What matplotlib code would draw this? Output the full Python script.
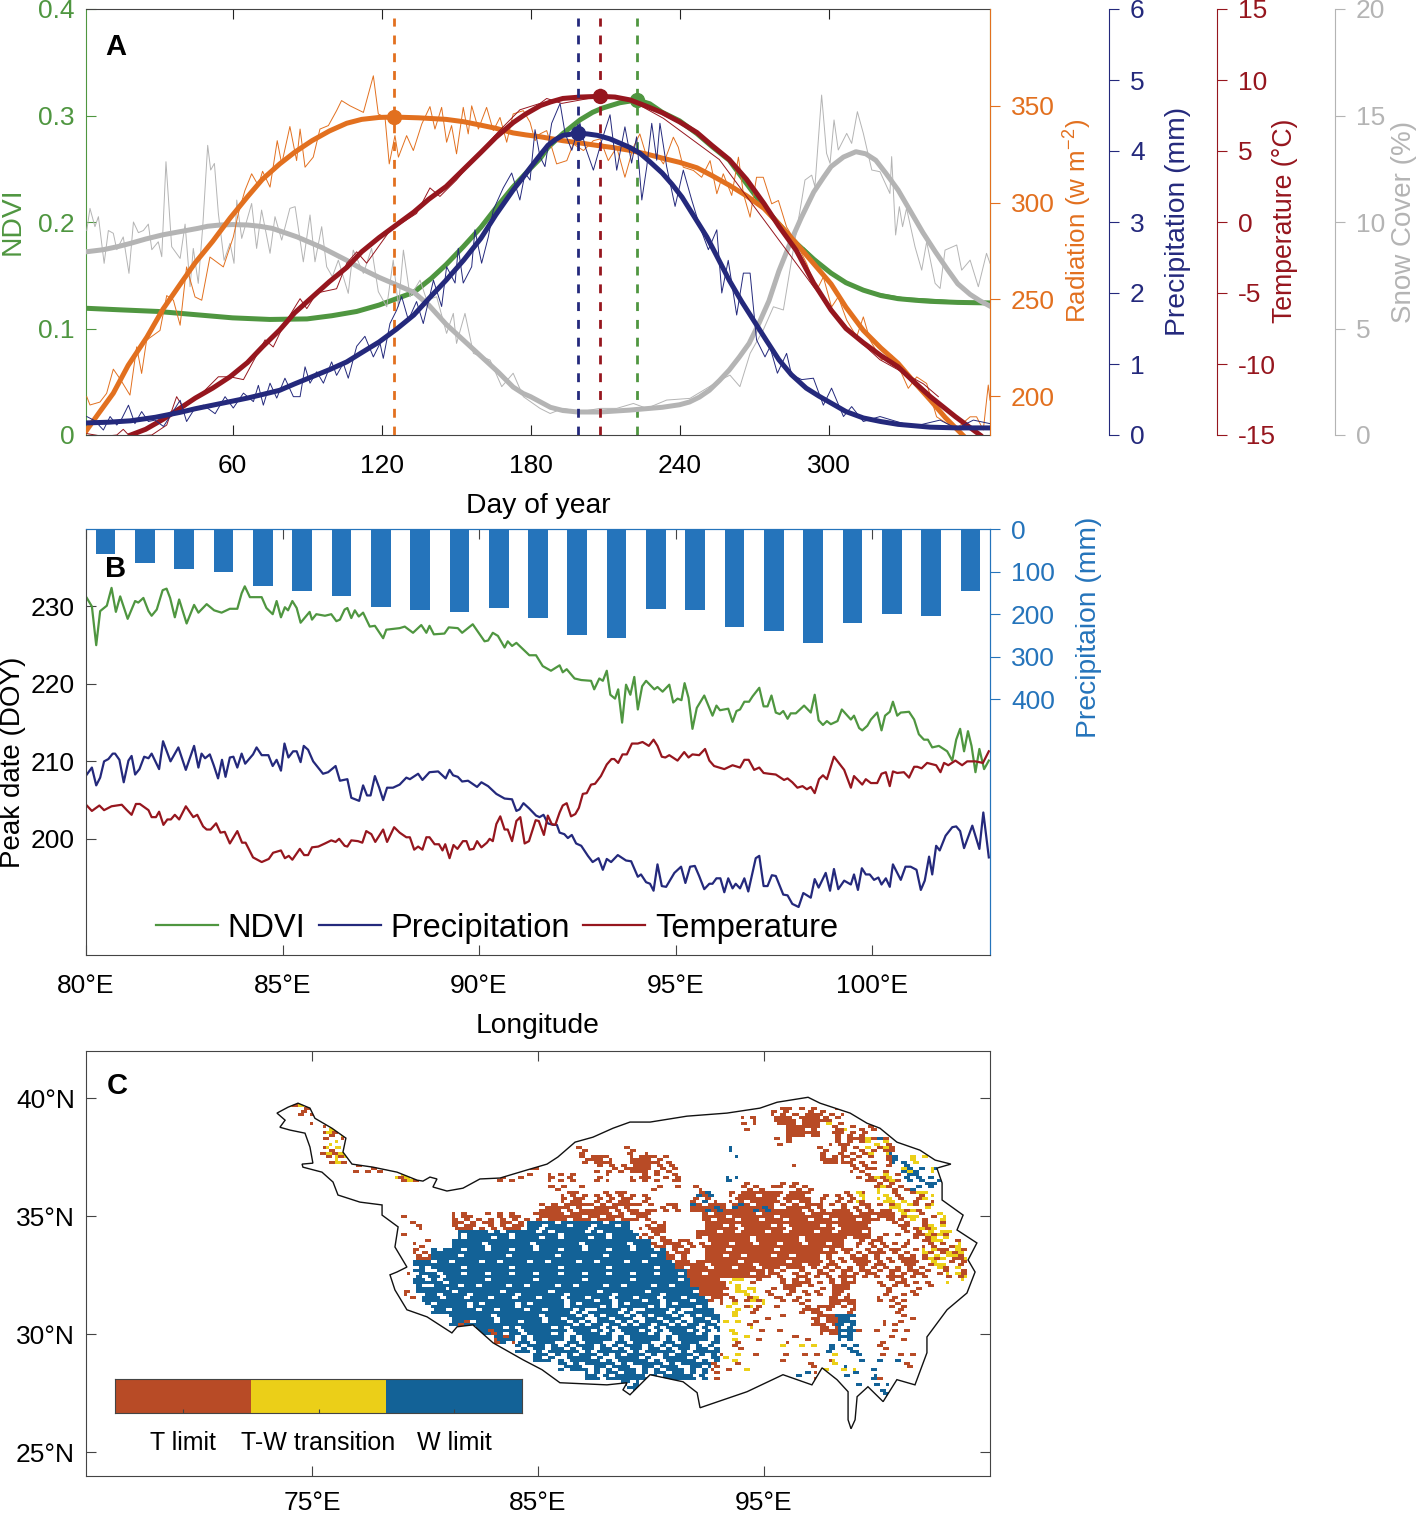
import matplotlib
matplotlib.use('Agg')
import matplotlib.pyplot as plt
import numpy as np
from matplotlib.colors import ListedColormap
from matplotlib.patches import Polygon

plt.rcParams['font.family'] = ['Liberation Sans', 'DejaVu Sans']
plt.rcParams['axes.unicode_minus'] = False
plt.rcParams['mathtext.default'] = 'regular'

W, H = 1418, 1514

# Panel A, smoothed curves
ndvi_day = [1, 15, 30, 45, 60, 75, 90, 100, 110, 119, 126, 133, 140, 146, 153, 160, 166, 173, 179, 184, 187, 193, 200, 205, 209, 216, 223, 228, 233, 240, 247, 253, 260, 267, 274, 280, 287, 294, 301, 307, 314, 321, 328, 335, 341, 352, 365]
ndvi_val = [.119, .1175, .116, .113, .110, .1085, .109, .112, .116, .122, .128, .134, .147, .16, .177, .195, .213, .233, .248, .26, .27, .283, .296, .303, .307, .312, .3146, .311, .303, .295, .283, .271, .258, .236, .214, .198, .18, .165, .152, .143, .136, .131, .128, .1265, .1255, .1245, .124]
ndvi_thin_day = [290, 300, 310, 320, 330, 338, 345, 355, 365]
ndvi_thin_val = [.176, .154, .140, .133, .129, .128, .127, .125, .124]

rad_day = [1, 6, 12, 18, 25.5, 32, 39, 45, 52, 59, 66, 72, 79, 85, 92, 99, 106, 112, 119, 125, 135, 146, 153, 160, 166, 173, 178, 184, 193, 200, 207, 214, 220, 227, 233, 240, 247, 253, 260, 267, 274, 280, 287, 294, 301, 307, 314, 321, 328, 334, 341, 347, 354]
rad_val = [182, 191, 201.6, 216, 230.5, 245, 258, 269, 280, 292, 303, 312, 320, 326, 332, 337, 341, 343, 344, 344.2, 343.8, 343, 341.8, 340, 338.4, 336, 335, 334, 332, 330.8, 329.5, 328.3, 327, 325, 323, 320.8, 318, 314, 309, 303.5, 297, 289, 279, 268.5, 258, 246, 234, 225, 217, 208, 198, 189, 180]
rad_thin_day = [1.3, 2.6, 6.6, 9.3, 12, 14.7, 18.7, 21.4, 23.4, 25.4, 30.8, 33.5, 36.2, 38.9, 41.5, 44.9, 47.6, 50.9, 56.3, 60.3, 62.3, 65, 67.7, 70.4, 72.1, 75.1, 78, 79.8, 83.1, 85.8, 87.2, 89.2, 92.5, 95.2, 98.6, 101.9, 103.9, 107.3, 112.7, 116.7, 118.7, 121.4, 123.1, 125.4, 126.8, 130.1, 132.8, 136.2, 139.5, 141.5, 144.2, 146.2, 148.2, 150.2, 152.9, 154.9, 156.3, 159, 162.3, 165, 167.7, 170.4, 173, 177.1, 179.8, 181.8, 183.8, 186.5, 190.5, 194.6, 197.2, 201.3, 205.3, 208, 211.3, 214.7, 218, 221.4, 224, 226.8, 230.8, 233.5, 237.5, 239.5, 241.5, 245.6, 248.9, 252.3, 255, 257.6, 261, 263.7, 265.7, 268.4, 271, 273.7, 277.1, 279.8, 283.1, 287.2, 291.2, 295.2, 297.9, 301.2, 303.9, 307.3, 311.3, 314, 316.7, 321.4, 325.4, 328.8, 332.1, 335.5, 339.5, 343.5, 347.6, 351.6, 357, 359.6, 362.3, 364.3, 365]
rad_thin_val = [199.8, 195.5, 197, 201.5, 214, 209, 200.6, 225.5, 211.8, 229, 234, 252, 249.6, 236.7, 266.8, 251.3, 249.6, 271.9, 266.8, 282.2, 294.2, 306.3, 314.9, 308.8, 316.2, 308, 332, 320, 339.3, 321.7, 338, 318.3, 323.5, 338, 339.8, 347.5, 352.7, 350, 346.6, 365.5, 345.8, 344, 320, 334.6, 323.5, 334.6, 326.9, 340.6, 349.6, 338, 349.2, 331.2, 339.8, 325.2, 349.2, 335.5, 350, 338, 349.2, 337.2, 344, 331.2, 345.8, 347.5, 341.5, 332, 335.5, 337.2, 320, 321.7, 330.3, 326.9, 332, 332.9, 321.7, 328.6, 313.1, 328.6, 335.5, 323.5, 325.2, 320, 333.8, 328.6, 318.3, 316.6, 313.1, 321.7, 304.6, 314.9, 303.7, 323.5, 304.6, 292.5, 313.1, 313.1, 299.4, 301.1, 287.4, 278.8, 268.5, 254.7, 261.6, 246.1, 251.3, 239.3, 230.7, 241, 229, 218.7, 221.2, 213.5, 204.1, 210, 206.6, 189.4, 186, 183.4, 189.4, 189.4, 182.6, 205.8, 198]

pre_day = [1, 10, 19, 29, 39, 45, 52, 59, 66, 72, 79, 85, 92, 99, 106, 112, 119, 126, 133, 139, 146, 153, 160, 166, 173, 177, 180, 184, 187, 190, 193, 199, 203, 207, 212, 216, 220, 224, 228, 233, 237, 241, 246, 251, 255, 260, 265, 271, 275, 280, 285, 291, 296, 301, 307, 314, 321, 328, 341, 352, 365]
pre_val = [.17, .18, .2, .25, .32, .37, .42, .47, .52, .57, .63, .72, .82, .92, 1.03, 1.16, 1.31, 1.49, 1.69, 1.92, 2.18, 2.46, 2.77, 3.1, 3.45, 3.63, 3.77, 3.95, 4.08, 4.16, 4.22, 4.25, 4.24, 4.22, 4.17, 4.11, 4.05, 3.97, 3.85, 3.69, 3.53, 3.35, 3.07, 2.79, 2.52, 2.18, 1.88, 1.55, 1.33, 1.06, .85, .66, .55, .45, .33, .24, .19, .15, .11, .10, .10]
pre_thin_day = [1.3, 4.6, 8, 10.7, 13.4, 15.4, 18.1, 20.7, 23.4, 26.1, 28.8, 32.2, 35.5, 38.9, 41.5, 44.9, 48.3, 53, 57, 60.3, 64.4, 68.4, 70.4, 72.4, 75.1, 77.8, 81.1, 84.5, 87.2, 89.2, 91.2, 93.9, 96.6, 99.9, 101.9, 104.6, 106.6, 110, 113.3, 116.7, 119.4, 120.7, 123.4, 126.1, 128.1, 130.8, 134.1, 136.8, 140.9, 144.2, 146.2, 149.6, 150.9, 152.9, 156.3, 157.6, 160.3, 163, 165, 169, 172.4, 175.7, 177.8, 179.8, 181.8, 183.8, 185.8, 188.5, 191.9, 193.9, 196.6, 199.9, 202, 205.3, 208.7, 212, 214.7, 218, 220.7, 222.7, 224.8, 226.8, 228.8, 230.8, 232.1, 234.8, 238.2, 241.5, 244.9, 248.2, 251.6, 255, 257, 259.6, 263, 265.7, 268.4, 271, 274.4, 276.4, 279.4, 283.1, 285.1, 289.2, 293.9, 297.9, 301.2, 306, 309.3, 314, 320.7, 327.4, 334.1, 344.9, 351.6, 358.3, 365]
pre_thin_val = [.26, .20, .07, .26, .14, .23, .42, .16, .33, .19, .21, .12, .30, .49, .19, .38, .42, .30, .54, .38, .59, .47, .70, .42, .73, .52, .80, .54, .54, .96, .73, .89, .73, 1.03, .84, 1.01, .80, 1.25, 1.39, 1.10, 1.29, 1.08, 1.57, 1.76, 1.95, 1.62, 1.88, 1.57, 2.18, 1.81, 2.37, 2.14, 2.63, 2.14, 2.37, 2.89, 2.42, 2.79, 3.17, 3.48, 3.69, 3.31, 3.69, 3.59, 4.30, 3.92, 3.78, 4.39, 4.67, 4.25, 4.01, 4.39, 4.06, 3.73, 4.15, 4.51, 3.73, 4.34, 3.83, 4.2, 3.31, 3.78, 4.39, 3.87, 4.39, 3.78, 3.22, 3.73, 3.31, 2.93, 2.61, 2.89, 2.0, 2.46, 1.69, 2.28, 2.28, 1.34, 1.1, 1.24, .87, 1.15, .85, .78, .80, .42, .66, .26, .40, .19, .26, .19, .12, .21, .09, .21, .16]

tem_day = [19, 25, 32, 39, 45, 52, 59, 66, 72, 79, 85, 92, 99, 106, 112, 119, 126, 133, 139, 146, 153, 160, 166, 173, 178, 184, 188, 193, 200, 208, 214, 220, 226, 233, 240, 247, 253, 260, 267, 274, 280, 287, 294, 301, 307, 314, 321, 328, 334, 341, 351, 361]
tem_val = [-15, -14.6, -13.9, -13.1, -12.4, -11.7, -10.9, -9.9, -8.8, -7.6, -6.4, -5.3, -4.2, -3.2, -2.1, -1.1, -.2, .7, 1.6, 2.5, 3.7, 4.9, 5.95, 7.0, 7.6, 8.2, 8.45, 8.7, 8.8, 8.85, 8.8, 8.6, 8.2, 7.7, 7.05, 6.3, 5.4, 4.4, 3.0, 1.3, -.3, -2.0, -4.3, -6.2, -7.5, -8.5, -9.4, -10.2, -11.2, -12.3, -13.7, -15]
tem_thin_day = [1.3, 8, 13.4, 16, 18.7, 27.5, 33.5, 37.5, 40.2, 46.9, 54.3, 59, 64.4, 68.4, 73.1, 76.4, 80.5, 87.2, 89.9, 93.9, 101.9, 106, 110, 114, 123.4, 134.1, 139.5, 143.5, 150.2, 157, 166.4, 175.7, 183.8, 186.5, 192.5, 206.6, 220, 233.5, 256, 293.9, 310.6, 320.7, 338.2, 344.2]
tem_thin_val = [-14.9, -15.1, -15, -14.6, -15.1, -15, -14.3, -12.3, -13.1, -12.2, -10.9, -10.9, -11.1, -9.8, -8.3, -8.8, -7.3, -5.4, -6.1, -5.0, -4.7, -2.9, -2.1, -2.9, -.6, .6, 2.4, 1.8, 2.96, 4.4, 6.24, 7.9, 8.35, 8.7, 8.35, 8.8, 8.6, 7.3, 4.4, -4.55, -8.1, -9.7, -11.4, -12.3]

sno_day = [1, 8, 14, 19, 25, 32, 39, 46, 50, 55, 60, 66, 71, 76, 81, 86, 91, 96, 101, 106, 112, 119, 126, 133, 139, 146, 153, 160, 167, 173, 177, 180, 184, 188, 193, 199, 208, 220, 233, 240, 244, 248, 252, 256, 260, 264, 268, 272, 276, 280, 285, 289, 294, 298, 301, 306, 311, 315, 319, 323, 328, 333, 338, 343, 348, 352, 357, 361, 365]
sno_val = [8.6, 8.7, 8.85, 9.0, 9.2, 9.4, 9.55, 9.7, 9.8, 9.86, 9.88, 9.86, 9.8, 9.7, 9.5, 9.3, 9.05, 8.8, 8.5, 8.2, 7.8, 7.4, 7.05, 6.7, 6.1, 5.2, 4.45, 3.7, 2.95, 2.25, 1.95, 1.8, 1.55, 1.3, 1.15, 1.08, 1.08, 1.17, 1.3, 1.42, 1.55, 1.78, 2.1, 2.55, 3.05, 3.65, 4.3, 5.25, 6.3, 7.7, 9.15, 10.2, 11.4, 12.1, 12.6, 13.05, 13.3, 13.2, 12.9, 12.3, 11.5, 10.5, 9.5, 8.6, 7.75, 7.1, 6.6, 6.3, 6.05]
sno_thin_day = [1.3, 2.6, 4.6, 6, 8.3, 10, 12, 13.4, 16, 18.3, 20.1, 22.1, 24.1, 26.1, 27.5, 30.1, 31.5, 33.2, 35.5, 38.9, 40.9, 42.9, 44.2, 46.2, 48, 50, 51.2, 52.7, 54.3, 56.6, 59, 60.6, 61.7, 63.7, 67.7, 69.7, 71.7, 75.1, 77.1, 79.8, 83.1, 85.2, 88.5, 91.2, 93.2, 95.9, 97.9, 100.2, 102.6, 106.6, 108.6, 112.7, 116, 118.7, 122.1, 124.7, 126.8, 128.8, 131.5, 135.5, 138.2, 142.2, 146.2, 148.9, 150.2, 153.6, 157, 163.7, 168.4, 173, 177.1, 183.8, 187.9, 193.2, 199.9, 208, 214.7, 221.4, 226.8, 234.8, 244.2, 250.9, 256.3, 260.3, 264.3, 268.4, 273.7, 277.8, 281.8, 285.1, 289.2, 290.5, 293.2, 294.5, 297.2, 299.2, 300.6, 302.2, 303.9, 307.3, 309.3, 311.6, 314, 317.4, 320.7, 324.7, 325.4, 327, 328.5, 329.8, 331.4, 334.8, 337.5, 339.5, 342.9, 344.9, 346.9, 351.6, 353.6, 357, 360.3, 363.6, 365]
sno_thin_val = [9.6, 10.64, 9.78, 10.25, 8.06, 9.6, 9.47, 8.7, 9.3, 7.59, 10.0, 9.5, 9.6, 9.9, 8.7, 9.07, 8.37, 12.83, 8.84, 8.29, 9.9, 6.96, 8.76, 7.12, 9.78, 13.6, 12.44, 12.75, 10.4, 8.2, 9.0, 8.06, 11.03, 9.23, 10.87, 8.76, 10.56, 8.53, 10.25, 9.15, 10.64, 10.72, 8.13, 10.33, 8.13, 9.78, 7.9, 7.43, 8.21, 6.65, 8.68, 7.59, 8.76, 6.73, 6.02, 8.21, 6.02, 8.68, 6.49, 7.27, 6.33, 6.49, 4.77, 5.71, 4.3, 5.71, 3.83, 3.52, 2.27, 2.9, 1.8, 1.25, 1.01, 1.25, 1.09, 1.25, 1.25, 1.48, 1.25, 1.64, 1.72, 2.19, 2.58, 2.81, 2.27, 3.83, 4.93, 6.02, 5.87, 8.21, 11.03, 11.97, 12.2, 11.66, 15.96, 13.22, 12.75, 14.79, 13.38, 14.16, 13.69, 15.18, 14.16, 12.44, 12.36, 11.34, 13.07, 9.39, 10.72, 9.78, 10.64, 8.84, 7.74, 9.07, 7.12, 6.88, 8.68, 8.92, 7.74, 8.21, 6.96, 8.53, 8.06]

peak_rad, peak_pre, peak_tem, peak_ndvi = 125, 199, 208, 223

# Panel B
bar_lon = [80.5 + i for i in range(23)]
bar_pre = [59, 80, 94, 101, 133, 146, 158, 183, 190, 194, 185, 209, 248, 256, 188, 191, 229, 240, 267, 220, 199, 205, 145]

b_ndvi_lon = [80.02, 80.15, 80.26, 80.36, 80.53, 80.65, 80.76, 80.87, 81.06, 81.25, 81.33, 81.46, 81.59, 81.67, 81.80, 81.95, 82.05, 82.14, 82.26, 82.37, 82.56, 82.75, 82.86, 83.07, 83.26, 83.45, 83.66, 83.85, 83.96, 84.04, 84.17, 84.47, 84.59, 84.75, 84.85, 84.96, 85.06, 85.14, 85.25, 85.36, 85.46, 85.69, 85.75, 85.86, 86.08, 86.24, 86.37, 86.46, 86.58, 86.65, 86.75, 86.84, 86.94, 87.05, 87.22, 87.35, 87.56, 87.64, 87.98, 88.11, 88.32, 88.53, 88.66, 88.74, 88.85, 89.12, 89.23, 89.46, 89.57, 89.84, 90.14, 90.23, 90.35, 90.48, 90.65, 90.73, 90.84, 90.95, 91.28, 91.45, 91.62, 91.83, 92.05, 92.13, 92.23, 92.43, 92.60, 92.85, 92.93, 93.06, 93.15, 93.25, 93.34, 93.46, 93.54, 93.64, 93.74, 93.85, 93.95, 94.04, 94.15, 94.25, 94.46, 94.54, 94.67, 94.84, 94.94, 95.05, 95.15, 95.23, 95.33, 95.43, 95.54, 95.73, 95.94, 96.04, 96.13, 96.34, 96.45, 96.55, 96.64, 96.75, 96.87, 96.96, 97.13, 97.24, 97.34, 97.44, 97.55, 97.65, 97.74, 97.85, 97.93, 98.06, 98.27, 98.44, 98.54, 98.64, 98.75, 98.85, 98.95, 99.12, 99.23, 99.46, 99.54, 99.67, 99.75, 99.88, 99.97, 100.13, 100.24, 100.33, 100.45, 100.53, 100.64, 100.73, 100.94, 101.07, 101.19, 101.32, 101.42, 101.53, 101.70, 101.91, 102.04, 102.14, 102.24, 102.34, 102.44, 102.53, 102.63, 102.73, 102.85, 102.97]
b_ndvi_doy = [231.1, 230.0, 225.0, 229.4, 230.1, 232.4, 229.3, 231.3, 228.4, 230.7, 230.5, 231.1, 229.4, 228.8, 229.6, 232.1, 232.3, 231.1, 228.6, 230.9, 227.8, 230.2, 229.2, 230.3, 229.5, 229.2, 229.7, 229.7, 231.7, 232.6, 231.2, 231.2, 229.8, 229.0, 230.7, 228.6, 229.9, 229.5, 230.7, 229.8, 227.9, 229.3, 228.3, 229.0, 228.8, 229.0, 228.1, 228.3, 229.6, 229.8, 228.5, 229.5, 228.7, 229.2, 227.4, 227.5, 225.9, 227.0, 227.2, 227.4, 226.6, 227.6, 226.6, 227.5, 226.4, 226.5, 227.3, 227.2, 226.6, 227.7, 225.5, 225.6, 226.6, 226.2, 224.7, 225.5, 224.9, 225.3, 223.7, 223.7, 222.3, 221.7, 222.4, 221.5, 221.9, 220.7, 220.5, 220.4, 219.3, 220.7, 220.4, 221.7, 218.6, 218.1, 219.3, 215.0, 219.9, 218.6, 220.9, 216.7, 219.7, 220.4, 219.3, 219.6, 219.0, 219.9, 217.6, 218.1, 217.9, 220.1, 218.2, 214.2, 216.9, 218.5, 215.9, 217.2, 216.6, 216.8, 215.1, 216.5, 216.7, 217.7, 217.7, 218.4, 219.5, 217.1, 217.1, 218.5, 216.3, 216.1, 216.5, 215.5, 216.2, 216.2, 217.2, 216.3, 218.6, 215.3, 214.7, 215.2, 214.8, 215.2, 216.7, 215.4, 215.9, 214.3, 214.0, 214.6, 215.4, 216.3, 214.0, 215.9, 216.4, 217.7, 215.9, 216.3, 216.4, 215.4, 213.5, 212.8, 212.8, 211.8, 212.0, 211.3, 210.1, 212.8, 214.2, 211.3, 213.9, 212.0, 208.6, 211.6, 209.0, 210.1]

b_pre_lon = [80.02, 80.15, 80.26, 80.36, 80.46, 80.57, 80.68, 80.74, 80.85, 80.96, 81.08, 81.16, 81.25, 81.36, 81.48, 81.59, 81.67, 81.86, 81.96, 82.15, 82.35, 82.54, 82.75, 82.86, 82.94, 83.03, 83.15, 83.25, 83.36, 83.46, 83.55, 83.66, 83.75, 83.85, 83.96, 84.05, 84.25, 84.34, 84.47, 84.64, 84.75, 84.85, 84.96, 85.05, 85.15, 85.27, 85.36, 85.46, 85.54, 85.65, 85.78, 86.03, 86.16, 86.35, 86.46, 86.65, 86.75, 86.95, 87.05, 87.15, 87.24, 87.35, 87.46, 87.56, 87.66, 87.81, 87.98, 88.15, 88.24, 88.45, 88.56, 88.74, 88.96, 89.15, 89.25, 89.34, 89.46, 89.57, 89.72, 89.95, 90.06, 90.23, 90.44, 90.65, 90.84, 90.95, 91.03, 91.13, 91.28, 91.45, 91.54, 91.64, 91.75, 91.88, 91.98, 92.05, 92.17, 92.26, 92.36, 92.47, 92.60, 92.77, 92.89, 93.04, 93.15, 93.25, 93.36, 93.53, 93.74, 93.87, 94.04, 94.12, 94.25, 94.35, 94.44, 94.54, 94.65, 94.76, 94.97, 95.14, 95.25, 95.37, 95.49, 95.60, 95.73, 95.86, 95.94, 96.04, 96.14, 96.24, 96.34, 96.45, 96.53, 96.64, 96.75, 96.85, 97.04, 97.13, 97.24, 97.34, 97.45, 97.55, 97.74, 97.85, 97.97, 98.13, 98.25, 98.44, 98.54, 98.64, 98.82, 98.93, 99.03, 99.14, 99.29, 99.46, 99.54, 99.64, 99.74, 99.84, 99.94, 100.05, 100.16, 100.24, 100.35, 100.45, 100.53, 100.73, 100.85, 100.98, 101.13, 101.24, 101.34, 101.45, 101.53, 101.63, 101.72, 101.87, 102.04, 102.14, 102.24, 102.34, 102.55, 102.73, 102.83, 102.97]
b_pre_doy = [208.3, 209.2, 206.9, 207.9, 210.0, 210.3, 211.0, 211.0, 210.2, 207.3, 210.1, 210.7, 208.3, 209.0, 210.6, 210.4, 211.0, 209.0, 212.6, 210.0, 211.8, 208.9, 212.0, 209.2, 211.0, 210.4, 210.9, 209.5, 207.8, 210.2, 208.0, 210.5, 210.6, 209.2, 211.0, 209.7, 210.9, 211.8, 210.8, 210.8, 209.4, 210.2, 208.8, 212.3, 210.5, 211.3, 211.3, 209.9, 212.0, 211.5, 210.0, 208.4, 208.6, 209.4, 207.5, 207.7, 205.3, 204.9, 206.9, 205.6, 205.6, 208.1, 206.6, 205.0, 206.6, 206.6, 207.0, 207.9, 207.7, 208.4, 207.6, 208.6, 208.7, 207.8, 208.9, 208.2, 208.0, 207.4, 207.5, 206.7, 207.3, 206.8, 205.8, 205.2, 205.1, 203.6, 203.8, 204.6, 203.9, 203.0, 202.8, 203.1, 202.0, 201.8, 201.8, 200.8, 200.6, 200.1, 200.5, 199.4, 199.1, 197.8, 197.0, 197.5, 196.0, 197.4, 197.0, 197.9, 197.2, 197.1, 195.1, 195.4, 194.4, 194.2, 193.3, 196.7, 193.9, 193.8, 195.6, 196.4, 194.3, 196.4, 196.5, 195.2, 193.5, 194.2, 194.2, 194.9, 194.9, 193.1, 194.9, 193.6, 194.2, 193.6, 194.9, 193.2, 197.5, 197.8, 193.9, 193.9, 195.3, 195.2, 192.8, 192.7, 191.6, 191.2, 193.0, 192.4, 194.8, 193.7, 195.6, 193.3, 196.1, 193.5, 194.6, 194.1, 195.4, 193.4, 196.2, 195.4, 195.4, 194.7, 195.0, 194.1, 194.9, 193.8, 196.7, 194.7, 196.4, 196.4, 196.0, 193.4, 194.6, 197.7, 195.4, 199.1, 198.5, 200.4, 201.5, 201.6, 201.0, 198.8, 201.7, 198.7, 203.4, 197.6]

b_tem_lon = [80.02, 80.15, 80.34, 80.46, 80.65, 80.91, 81.04, 81.16, 81.27, 81.37, 81.59, 81.67, 81.78, 81.86, 81.97, 82.07, 82.16, 82.26, 82.37, 82.54, 82.73, 82.83, 82.98, 83.07, 83.17, 83.31, 83.42, 83.53, 83.66, 83.85, 83.97, 84.06, 84.25, 84.47, 84.65, 84.76, 84.96, 85.06, 85.16, 85.25, 85.44, 85.55, 85.65, 85.75, 85.91, 86.08, 86.24, 86.35, 86.44, 86.58, 86.65, 86.75, 86.92, 87.03, 87.13, 87.26, 87.36, 87.56, 87.66, 87.84, 87.98, 88.15, 88.24, 88.35, 88.45, 88.56, 88.66, 88.74, 88.87, 88.98, 89.07, 89.14, 89.25, 89.35, 89.45, 89.59, 89.68, 89.76, 89.86, 89.95, 90.06, 90.20, 90.27, 90.35, 90.44, 90.54, 90.65, 90.73, 90.84, 90.95, 91.05, 91.16, 91.27, 91.44, 91.52, 91.65, 91.75, 91.85, 91.94, 92.05, 92.13, 92.23, 92.34, 92.45, 92.54, 92.64, 92.74, 92.85, 92.95, 93.10, 93.25, 93.37, 93.44, 93.54, 93.65, 93.76, 93.89, 94.04, 94.16, 94.32, 94.44, 94.54, 94.65, 94.74, 94.84, 95.05, 95.22, 95.33, 95.43, 95.60, 95.75, 95.86, 95.98, 96.24, 96.45, 96.64, 96.75, 96.86, 97.00, 97.13, 97.24, 97.38, 97.55, 97.76, 97.85, 97.97, 98.10, 98.23, 98.34, 98.44, 98.54, 98.65, 98.75, 98.85, 99.03, 99.29, 99.46, 99.54, 99.75, 99.84, 99.97, 100.13, 100.24, 100.35, 100.45, 100.53, 100.64, 100.81, 100.94, 101.07, 101.15, 101.26, 101.40, 101.63, 101.74, 101.83, 101.94, 102.12, 102.29, 102.42, 102.63, 102.82, 102.97]
b_tem_doy = [204.3, 203.6, 204.3, 203.7, 204.2, 204.4, 203.7, 203.1, 204.5, 204.5, 203.7, 202.8, 202.8, 203.5, 201.8, 202.5, 202.5, 203.1, 202.5, 204.2, 202.8, 203.1, 201.6, 201.2, 201.2, 202.0, 200.8, 200.9, 199.4, 201.0, 199.5, 199.5, 197.6, 197.0, 197.4, 198.2, 198.5, 197.5, 197.8, 197.3, 198.7, 197.9, 197.9, 198.9, 199.0, 199.4, 199.8, 199.6, 200.0, 199.1, 199.0, 199.8, 199.7, 199.5, 201.0, 200.6, 199.6, 201.2, 199.6, 201.5, 200.8, 200.2, 200.2, 198.6, 199.0, 198.6, 200.2, 200.2, 199.3, 199.3, 198.5, 199.3, 197.5, 199.2, 198.7, 199.7, 199.7, 198.6, 198.7, 199.7, 198.9, 199.5, 200.0, 199.7, 201.9, 202.9, 201.2, 201.2, 199.7, 202.3, 202.8, 199.4, 199.7, 202.4, 202.3, 200.5, 203.0, 201.9, 201.8, 203.4, 204.3, 204.6, 202.9, 203.2, 204.0, 205.8, 205.9, 207.0, 207.1, 208.1, 209.6, 210.3, 210.3, 209.8, 210.9, 210.9, 212.3, 212.3, 212.5, 212.0, 212.8, 212.0, 210.6, 210.5, 210.8, 210.1, 211.2, 210.5, 210.9, 210.8, 211.6, 210.1, 209.4, 209.0, 209.5, 209.2, 210.2, 210.2, 208.9, 209.2, 208.5, 208.4, 208.3, 207.6, 207.8, 207.3, 206.6, 206.8, 206.4, 206.7, 205.9, 207.7, 208.2, 207.7, 210.6, 208.9, 206.6, 208.1, 207.0, 207.7, 207.2, 207.2, 208.4, 208.6, 206.8, 208.7, 208.5, 208.6, 207.9, 209.3, 209.3, 209.1, 209.8, 209.5, 208.6, 209.8, 209.5, 210.1, 209.5, 210.0, 210.0, 209.8, 211.3]

# Panel C outline
out_lon = [73.45, 73.94, 74.38, 74.91, 75.13, 75.88, 76.50, 76.37, 76.77, 77.70, 78.76, 79.65, 79.91, 80.22, 80.53, 80.35, 80.97, 81.68, 82.43, 83.32, 84.51, 85.40, 85.88, 86.64, 87.43, 88.32, 89.07, 89.96, 91.59, 93.36, 94.82, 95.58, 96.95, 97.48, 98.81, 99.56, 100.13, 100.88, 101.90, 102.57, 103.27, 102.65, 102.88, 102.88, 103.81, 103.54, 104.42, 104.03, 104.34, 103.98, 103.10, 102.21, 102.21, 101.68, 100.88, 100.27, 99.60, 99.12, 99.03, 98.85, 98.72, 98.72, 98.23, 97.57, 97.12, 95.84, 94.25, 92.17, 92.04, 91.42, 89.96, 89.07, 88.76, 88.94, 88.05, 85.97, 85.18, 84.34, 83.01, 82.12, 81.42, 81.19, 80.09, 79.20, 78.67, 78.45, 78.76, 79.20, 78.67, 78.81, 78.10, 78.10, 77.12, 76.15, 75.93, 75.44, 74.60, 74.56, 75.04, 74.91, 74.69, 74.03, 73.58, 73.81, 73.45]
out_lat = [39.37, 39.62, 39.79, 39.58, 39.15, 38.73, 38.31, 37.72, 37.21, 37.08, 36.87, 36.53, 36.49, 36.66, 36.58, 36.24, 36.07, 36.19, 36.58, 36.62, 36.96, 37.21, 37.51, 38.14, 38.35, 38.73, 38.99, 38.99, 39.24, 39.37, 39.58, 39.83, 40.04, 39.79, 39.37, 38.94, 38.73, 38.14, 37.80, 37.38, 37.21, 37.04, 36.41, 35.69, 35.05, 34.42, 33.87, 33.15, 32.64, 31.75, 31.04, 29.89, 29.22, 27.86, 28.08, 27.15, 27.78, 27.36, 26.38, 26.0, 26.38, 27.57, 28.08, 28.58, 27.86, 28.29, 27.57, 26.89, 27.53, 27.99, 28.29, 27.44, 27.65, 27.95, 27.86, 27.95, 28.50, 28.92, 29.64, 30.40, 30.32, 30.06, 30.74, 31.04, 31.88, 32.52, 32.64, 32.85, 33.70, 34.55, 35.05, 35.48, 35.60, 35.90, 36.45, 36.87, 37.08, 37.21, 37.25, 37.93, 38.52, 38.65, 38.77, 39.07, 39.37]

# limit class per 0.4 degree band: (lon from, lon to, class, share of cells), read by eye.
# single pixels were not read, the speckle below only reproduces these shares
map_rows = [
    [(74.0, 74.9, 'Y', .5), (74.0, 74.9, 'T', .3)],
    [(73.8, 75.0, 'T', .25), (95.3, 97.9, 'T', .45), (97.9, 98.5, 'T', .2)],
    [(74.9, 75.6, 'T', .3), (75, 75.6, 'Y', .2), (94, 94.6, 'T', .6), (95.5, 97.4, 'T', .8), (97.4, 99, 'T', .4), (97.5, 98, 'Y', .15)],
    [(75.4, 76.4, 'T', .4), (75.4, 76.4, 'Y', .2), (94, 94.5, 'T', .15), (96, 97.4, 'T', .85), (98, 100.1, 'T', .45), (98.5, 99, 'Y', .2)],
    [(75.4, 76.4, 'T', .25), (75.7, 76.1, 'Y', .3), (95, 96.2, 'T', .25), (97.8, 100.6, 'T', .45), (99.5, 100.6, 'Y', .35), (99.2, 100.3, 'W', .05)],
    [(75.2, 76.3, 'T', .4), (75.6, 76.4, 'Y', .15), (86.5, 87.6, 'T', .25), (88.6, 89.9, 'T', .25), (93.5, 93.9, 'W', .4), (96.5, 99, 'T', .25), (98.7, 100.9, 'T', .5), (99.5, 100.5, 'Y', .4), (100.5, 101, 'W', .15)],
    [(75.6, 76.6, 'T', .4), (76, 76.8, 'Y', .3), (86.8, 88.3, 'T', .55), (89, 90.9, 'T', .6), (93.5, 93.9, 'W', .35), (97.5, 98.2, 'T', .75), (98.4, 100.7, 'T', .4), (100.7, 102, 'W', .35), (101, 102.2, 'Y', .3)],
    [(76.7, 78.8, 'T', .35), (84.6, 85.2, 'T', .4), (84.6, 85.4, 'Y', .1), (87.2, 91.2, 'T', .45), (89, 90, 'T', .9), (96.2, 96.7, 'T', .3), (98.8, 100.6, 'T', .4), (101, 103, 'W', .3), (101, 102.5, 'Y', .2)],
    [(78.6, 80.2, 'T', .4), (78.6, 80.2, 'Y', .25), (83, 84.8, 'T', .2), (85.5, 86.6, 'T', .6), (87.3, 88.1, 'T', .25), (89, 91.3, 'T', .45), (93.3, 93.8, 'W', .35), (99, 101, 'T', .4), (99.5, 101, 'Y', .25), (101, 103, 'W', .4)],
    [(80.4, 81.4, 'Y', .2), (80, 81.4, 'T', .15), (85.5, 87.5, 'T', .2), (90, 92.2, 'T', .2), (94, 95, 'T', .35), (95, 97.5, 'T', .35), (99.8, 101.5, 'T', .35), (100, 100.5, 'Y', .35), (101.5, 102.6, 'W', .3)],
    [(86, 90, 'T', .5), (91.7, 92.9, 'W', .35), (91.7, 92.9, 'T', .3), (93.4, 97, 'T', .8), (97.5, 99.5, 'T', .5), (99, 99.5, 'Y', .5), (100, 102.5, 'Y', .35), (100.5, 102.5, 'T', .25)],
    [(85, 89.5, 'T', .7), (89.5, 91.3, 'T', .4), (91.7, 95.5, 'W', .25), (91.7, 97.5, 'T', .6), (97.5, 100.5, 'T', .45), (100.5, 102.5, 'Y', .4), (100.5, 102.5, 'T', .2)],
    [(78.9, 79.5, 'T', .15), (81.2, 85, 'T', .45), (85, 87.5, 'T', .85), (87.5, 90, 'T', .7), (92.2, 100.8, 'T', .85), (101, 103, 'Y', .4), (100.5, 103, 'T', .25)],
    [(78.9, 79.8, 'T', .3), (81, 84.5, 'T', .6), (84.5, 89, 'W', .8), (89.5, 90.6, 'T', .5), (92.4, 99.7, 'T', .85), (101, 103, 'Y', .3), (100.5, 103, 'T', .3)],
    [(78.9, 79.5, 'T', .2), (81.5, 89.5, 'W', .85), (89.5, 90.6, 'T', .55), (92, 99.7, 'T', .9), (101.5, 103.3, 'Y', .4), (100, 103.3, 'T', .35)],
    [(79.5, 80.2, 'T', .35), (81.2, 90, 'W', .88), (90, 92.2, 'T', .6), (92.2, 98.5, 'T', .85), (99, 101.5, 'T', .45), (102, 103.7, 'Y', .4), (102, 103.7, 'T', .35)],
    [(79.5, 80.3, 'T', .45), (80.2, 90.7, 'W', .88), (90.6, 91.7, 'T', .6), (92.4, 97.5, 'T', .9), (97.5, 101.5, 'T', .5), (102, 104, 'Y', .45), (101.5, 104, 'T', .35)],
    [(79.5, 80.7, 'W', .6), (80.7, 91, 'W', .9), (91, 92, 'T', .8), (92, 96.8, 'T', .85), (96.8, 102, 'T', .55), (102.3, 104, 'Y', .4), (102, 104, 'T', .3)],
    [(78.9, 79.3, 'T', .2), (79.5, 81, 'W', .7), (81, 91.6, 'W', .9), (91.6, 95, 'T', .88), (95, 98, 'T', .45), (98, 102, 'T', .55), (103, 104, 'Y', .3), (102, 104, 'T', .3)],
    [(79, 79.3, 'T', .15), (79.5, 81, 'W', .72), (81, 91.7, 'W', .92), (91.7, 93.3, 'T', .95), (93.4, 94.2, 'Y', .4), (94, 95.2, 'T', .25), (95.5, 99, 'T', .5), (100, 102.5, 'T', .4), (103, 103.8, 'Y', .2)],
    [(79, 79.4, 'T', .1), (79.6, 81, 'W', .72), (81, 92.1, 'W', .88), (92.1, 93.5, 'T', .95), (93.6, 94.7, 'Y', .4), (95, 98, 'T', .4), (98, 98.8, 'T', .8), (100, 102, 'T', .3)],
    [(79.3, 79.7, 'T', .1), (79.8, 86, 'W', .85), (86, 92.5, 'W', .75), (92.5, 93.2, 'T', .7), (93.5, 95, 'Y', .3), (93.5, 95, 'T', .2), (95.5, 97.5, 'T', .3), (97.8, 99, 'T', .85), (100, 101.5, 'T', .25)],
    [(80.2, 86, 'W', .85), (86, 92.8, 'W', .68), (93, 94.5, 'Y', .25), (94, 96, 'T', .2), (96.5, 98.5, 'T', .5), (98, 99, 'T', .3), (100, 101.5, 'T', .2)],
    [(81, 86, 'W', .85), (86, 93, 'W', .65), (81.2, 82, 'T', .1), (93.2, 94, 'Y', .2), (94.3, 96, 'T', .12), (97, 98.3, 'T', .6), (98.1, 99, 'W', .75), (100.2, 101.7, 'T', .2)],
    [(82.2, 86, 'W', .82), (86, 93, 'W', .65), (82, 83.2, 'T', .25), (93, 94.5, 'Y', .2), (94.5, 96, 'T', .1), (97.5, 98.2, 'T', .55), (98.2, 99, 'W', .75), (99, 102, 'T', .15)],
    [(83, 93, 'W', .66), (83, 84, 'T', .3), (93, 95, 'T', .15), (93, 95, 'Y', .12), (96, 98, 'T', .12), (98.3, 99, 'W', .55), (99.5, 101.5, 'T', .15)],
    [(84, 93, 'W', .66), (93, 95.5, 'T', .12), (95.5, 97.5, 'Y', .1), (96, 98, 'W', .1), (98, 99.2, 'W', .35), (99, 102, 'T', .1)],
    [(84.8, 93, 'W', .65), (93, 95, 'T', .15), (93, 94.6, 'Y', .1), (95.5, 98, 'T', .12), (98, 99, 'Y', .12), (99, 101, 'W', .1), (100, 102, 'T', .1)],
    [(85.8, 92.7, 'W', .68), (92.7, 94, 'T', .2), (94, 94.5, 'Y', .15), (96, 97.5, 'T', .12), (97.5, 99, 'Y', .1), (98.5, 100, 'W', .12), (100.5, 101.8, 'T', .12)],
    [(87, 92.5, 'W', .72), (92.5, 93, 'T', .15), (95.8, 97.2, 'W', .12), (97.2, 99, 'T', .08), (98.5, 100, 'W', .15), (100, 100.5, 'T', .1)],
    [(88.6, 89.5, 'W', .75), (98.5, 99.5, 'W', .15), (99.5, 100.5, 'W', .15)],
    [(98.6, 99, 'Y', .3), (100, 100.5, 'W', .25)],
]
dither = [[37, 5, 58, 22, 44, 11, 61, 28],
          [14, 50, 30, 2, 53, 33, 19, 47],
          [63, 25, 41, 17, 8, 39, 56, 3],
          [9, 46, 0, 55, 31, 24, 12, 43],
          [34, 20, 59, 13, 48, 62, 36, 26],
          [52, 6, 38, 27, 4, 16, 54, 1],
          [18, 42, 23, 60, 35, 45, 10, 29],
          [57, 32, 7, 49, 21, 15, 40, 51]]
row_shift = [0, 3, 7, 1, 12, 5, 9, 2, 14, 6, 11]

GREEN = '#4F9640'
ORANGE = '#E2701F'
NAVY = '#24297C'
RED = '#96161E'
GREY = '#B4B4B4'
BLUE = '#2574BB'
EDGE = '#444444'
lim_colors = ['#B84B26', '#EBCF18', '#136297']


def add_ax(x0, y0, x1, y1):
    # pixel box of the reference, y from the top
    return fig.add_axes([x0 / W, 1 - y1 / H, (x1 - x0) / W, (y1 - y0) / H])


def fig_text(x, y, s, **kw):
    fig.text(x / W, 1 - y / H, s, ha='center', va='center', **kw)


fig = plt.figure(figsize=(W / 100, H / 100), dpi=100)
LEN = 7.2
FS = 19
LFS = 20.3

# ---- A ----
ax = add_ax(86, 9, 990, 435)
ax.set_xlim(1, 365)
ax.set_ylim(0, 0.4)
ax.set_xticks([60, 120, 180, 240, 300])
ax.set_yticks([0, .1, .2, .3, .4])
ax.set_yticklabels(['0', '0.1', '0.2', '0.3', '0.4'])
ax.tick_params(axis='x', direction='in', top=True, length=LEN, color='#222222', labelsize=FS, pad=14)
ax.tick_params(axis='y', direction='in', right=True, length=LEN, color=GREEN, labelcolor=GREEN, labelsize=FS, pad=8)
ax.spines['left'].set_color(GREEN)
ax.spines['right'].set_color(GREEN)
ax.spines['top'].set_color(EDGE)
ax.spines['bottom'].set_color(EDGE)
ax.set_xlabel('Day of year', fontsize=LFS)
ax.xaxis.set_label_coords(0.5, -0.136)
ax.plot(ndvi_thin_day, ndvi_thin_val, color=GREEN, lw=.7)
ax.plot(ndvi_day, ndvi_val, color=GREEN, lw=3.6)
ax.axvline(peak_ndvi, ymax=.98, color=GREEN, lw=2, dashes=(3.2, 3.2))
ax.plot([peak_ndvi], [.3146], 'o', color=GREEN, ms=10)


def extra_axis(lim, ticks, color, pos):
    a = ax.twinx()
    a.set_ylim(*lim)
    a.set_yticks(ticks)
    a.patch.set_visible(False)
    for s in ['left', 'top', 'bottom']:
        a.spines[s].set_visible(False)
    a.spines['right'].set_color(color)
    a.spines['right'].set_position(('axes', pos))
    a.tick_params(axis='y', direction='out', length=LEN, color=color, labelcolor=color, labelsize=FS, pad=8)
    return a


ax_sno = extra_axis((0, 20), [0, 5, 10, 15, 20], GREY, (1335 - 86) / 904)
ax_sno.plot(sno_thin_day, sno_thin_val, color=GREY, lw=.7)
ax_sno.plot(sno_day, sno_val, color=GREY, lw=3.6)

ax_rad = extra_axis((180, 400), [200, 250, 300, 350], ORANGE, 1.0)
ax_rad.plot(rad_thin_day, rad_thin_val, color=ORANGE, lw=.7)
ax_rad.plot(rad_day, rad_val, color=ORANGE, lw=3.6)
ax_rad.axvline(peak_rad, ymax=.98, color=ORANGE, lw=2, dashes=(3.2, 3.2))
ax_rad.plot([peak_rad], [344], 'o', color=ORANGE, ms=10)

ax_tem = extra_axis((-15, 15), [-15, -10, -5, 0, 5, 10, 15], RED, (1217 - 86) / 904)
ax_tem.plot(tem_thin_day, tem_thin_val, color=RED, lw=.7)
ax_tem.plot(tem_day, tem_val, color=RED, lw=3.6)
ax_tem.axvline(peak_tem, ymax=.98, color=RED, lw=2, dashes=(3.2, 3.2))
ax_tem.plot([peak_tem], [8.85], 'o', color=RED, ms=10)

ax_pre = extra_axis((0, 6), [0, 1, 2, 3, 4, 5, 6], NAVY, (1109 - 86) / 904)
ax_pre.plot(pre_thin_day, pre_thin_val, color=NAVY, lw=.7)
ax_pre.plot(pre_day, pre_val, color=NAVY, lw=3.6)
ax_pre.axvline(peak_pre, ymax=.98, color=NAVY, lw=2, dashes=(3.2, 3.2))
ax_pre.plot([peak_pre], [4.25], 'o', color=NAVY, ms=10)

fig_text(13, 221, 'NDVI', color=GREEN, fontsize=LFS, rotation=90)
fig_text(1078, 221, 'Radiation (w m$^{-2}$)', color=ORANGE, fontsize=18.7, rotation=90)
fig_text(1178, 221, 'Precipitation (mm)', color=NAVY, fontsize=LFS, rotation=90)
fig_text(1285, 221, 'Temperature (°C)', color=RED, fontsize=19.2, rotation=90)
fig_text(1404, 222, 'Snow Cover (%)', color=GREY, fontsize=LFS - .3, rotation=90)
fig_text(116, 47, 'A', fontsize=21, fontweight='bold')

# ---- B ----
bx = add_ax(86, 529, 990, 955)
bx.set_xlim(80, 103)
bx.set_ylim(185, 240)
bx.set_xticks([80, 85, 90, 95, 100])
bx.set_xticklabels(['80°E', '85°E', '90°E', '95°E', '100°E'])
bx.set_yticks([200, 210, 220, 230])
bx.tick_params(axis='x', direction='in', top=True, length=LEN, color=EDGE, labelsize=FS, pad=14)
bx.tick_params(axis='y', direction='in', right=True, length=LEN, color=EDGE, labelsize=FS, pad=8)
bx.spines['left'].set_color(EDGE)
bx.spines['bottom'].set_color(EDGE)
bx.spines['top'].set_color(BLUE)
bx.spines['right'].set_color(BLUE)
bx.set_xlabel('Longitude', fontsize=LFS)
bx.xaxis.set_label_coords(0.5, -0.135)
fig_text(13, 762, 'Peak date (DOY)', fontsize=LFS - .3, rotation=90)

tx = bx.twinx()
tx.set_ylim(1000, 0)
tx.set_yticks([0, 100, 200, 300, 400])
tx.tick_params(axis='y', direction='out', length=LEN, color=BLUE, labelcolor=BLUE, labelsize=FS, pad=8)
for s in ['left', 'bottom']:
    tx.spines[s].set_visible(False)
tx.spines['top'].set_color(BLUE)
tx.spines['right'].set_color(BLUE)
tx.bar(bar_lon, bar_pre, width=.5, color=BLUE)
fig_text(1089, 627, 'Precipitaion (mm)', color=BLUE, fontsize=LFS, rotation=90)

bx.set_zorder(tx.get_zorder() + 1)
bx.patch.set_visible(False)
l1, = bx.plot(b_ndvi_lon, b_ndvi_doy, color=GREEN, lw=1.6, label='NDVI')
l2, = bx.plot(b_pre_lon, b_pre_doy, color=NAVY, lw=1.6, label='Precipitation')
l3, = bx.plot(b_tem_lon, b_tem_doy, color=RED, lw=1.6, label='Temperature')
bx.legend(handles=[l1, l2, l3], ncol=3, frameon=False, fontsize=23.5, handlelength=1.9,
          handletextpad=.3, columnspacing=.4, loc='center',
          bbox_to_anchor=(0.4546, 0.063))
fig_text(116, 569, 'B', fontsize=21, fontweight='bold')

# ---- C ----
cx = add_ax(86, 1051, 990, 1476)
cx.set_xlim(65, 105)
cx.set_ylim(24, 42)
cx.set_xticks([75, 85, 95])
cx.set_xticklabels(['75°E', '85°E', '95°E'])
cx.set_yticks([25, 30, 35, 40])
cx.set_yticklabels(['25°N', '30°N', '35°N', '40°N'])
cx.tick_params(direction='in', top=True, right=True, length=LEN, color=EDGE, labelsize=FS)
cx.tick_params(axis='x', pad=11)
cx.tick_params(axis='y', pad=8)
for s in cx.spines.values():
    s.set_color(EDGE)

# build the class grid from the bands
lon_edges = np.arange(73.2, 104.6, 0.1333)
lat_edges = 40.0 - 0.127 * np.arange(int(12.8 / 0.127) + 1)
grid = np.full((len(lat_edges) - 1, len(lon_edges) - 1), np.nan)
codes = {'T': 0, 'Y': 1, 'W': 2}
lon_c = (lon_edges[:-1] + lon_edges[1:]) / 2
lat_c = (lat_edges[:-1] + lat_edges[1:]) / 2
for r, runs in enumerate(map_rows):
    lat_top = 40.0 - 0.4 * r
    rows = np.where((lat_c <= lat_top) & (lat_c > lat_top - 0.4))[0]
    for lon0, lon1, cls, share in runs:
        k = codes[cls]
        for i in rows:
            shift = row_shift[i % len(row_shift)]
            for j in np.where((lon_c >= lon0) & (lon_c < lon1))[0]:
                if dither[(i + 3 * k) % 8][((j + shift) // 2 + 5 * k) % 8] < share * 64:
                    grid[i, j] = k

mesh = cx.pcolormesh(lon_edges, lat_edges, np.ma.masked_invalid(grid),
                     cmap=ListedColormap(lim_colors), vmin=-.5, vmax=2.5)
border = Polygon(np.column_stack([out_lon, out_lat]), closed=True, fill=False,
                 edgecolor='#111111', lw=1, zorder=4, transform=cx.transData)
cx.add_patch(border)
mesh.set_clip_path(border)

fig_text(117, 1086, 'C', fontsize=21, fontweight='bold')

kx = add_ax(115, 1379, 522, 1413)
kx.pcolormesh([0, 1, 2, 3], [0, 1], np.array([[0, 1, 2]]), cmap=ListedColormap(lim_colors), vmin=-.5, vmax=2.5)
kx.set_yticks([])
kx.set_xticks([.5, 1.5, 2.5])
kx.set_xticklabels(['T limit', 'T-W transition', 'W limit'])
kx.tick_params(axis='x', direction='in', length=3, color=EDGE, labelsize=18, pad=13)
for s in kx.spines.values():
    s.set_color(EDGE)

fig.savefig('out.png', dpi=100)
